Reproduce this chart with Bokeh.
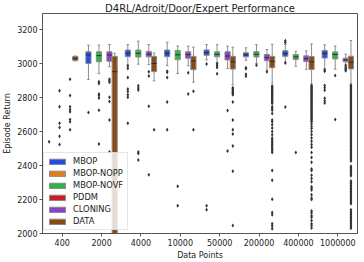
from bokeh.plotting import figure
from bokeh.models import FixedTicker, Range1d, Legend, LegendItem, ColumnDataSource
from bokeh.embed import file_html
from bokeh.resources import INLINE

categories = ["400", "2000", "4000", "10000", "50000", "200000", "400000", "1000000"]
hues = ["MBOP", "MBOP-NOPP", "MBOP-NOVF", "PDDM", "CLONING", "DATA"]
hue_colors = ["#224fdf", "#df7d20", "#30b347", "#cb1d25", "#8942cb", "#8b4a14"]

# box statistics per hue, one value per category (None: box lies below the visible range / no data)
mbop_low = [None, 2906, 2992, 2987, 3021, 3019, 3008, 2969]
mbop_q1 = [None, 3000, 3040, 3040, 3048, 3039, 3042, 3032]
mbop_med = [None, 3050, 3060, 3060, 3064, 3050, 3058, 3059]
mbop_q3 = [None, 3069, 3079, 3079, 3080, 3063, 3075, 3077]
mbop_high = [None, 3108, 3111, 3125, 3111, 3092, 3112, 3110]
mbop_fliers = [[2539], [2712], [2985, 2971, 2917, 2850, 2835, 2816, 2802, 2648],
               [2955, 2948, 2917, 2774, 2610], [2997, 2163, 2140], [2975, 2969, 2937, 2925],
               [3133, 3124, 3003, 2744], [2962, 2955, 2870, 2858, 2842, 2795, 2781, 2768]]

novf_low = [None, 2940, 2996, 2941, 3006, 3000, 2984, 2966]
novf_q1 = [None, 3010, 3038, 3022, 3039, 3038, 3024, 3027]
novf_med = [None, 3046, 3060, 3051, 3054, 3054, 3039, 3053]
novf_q3 = [None, 3069, 3079, 3077, 3069, 3070, 3053, 3068]
novf_high = [None, 3108, 3131, 3103, 3111, 3111, 3072, 3103]
novf_fliers = [[2840, 2745, 2648, 2624, 2572, 2523], [2892, 2883, 2821, 2812, 2797, 2725, 2527],
               [2869, 2856, 2844, 2480, 2470, 2433], [2278, 2163], [2998, 2988, 2977, 2940],
               [2990], [2476], [2930, 2671]]

cloning_low = [None, 2981, 2994, 2987, 2971, 2962, 2964, 2995]
cloning_q1 = [None, 3013, 3039, 3031, 3021, 3016, 3011, 3010]
cloning_med = [None, 3050, 3054, 3052, 3044, 3034, 3029, 3021]
cloning_q3 = [None, 3069, 3071, 3069, 3069, 3053, 3045, 3031]
cloning_high = [None, 3111, 3111, 3102, 3102, 3082, 3074, 3055]
cloning_fliers = [[2908, 2812, 2745, 2729, 2716, 2671, 2658, 2610],
                  [2908, 2898, 2889, 2802, 2777, 2668, 2480], [2952, 2927, 2748, 2345],
                  [2945, 2821], [2724, 2485], [2952], [], [2986, 2978, 2970, 2963, 2957]]

data_low = [3015, 1300, 2898, 2890, 2875, 2885, 2880, 2879]
data_q1 = [3017, 1700, 2952, 2963, 2967, 2975, 2965, 2968]
data_med = [3030, 2952, 3000, 3015, 3010, 3012, 3010, 3007]
data_q3 = [3042, 3042, 3042, 3042, 3042, 3042, 3041, 3043]
data_high = [3044, 3060, 3061, 3096, 3096, 3113, 3115, 3135]
data_fliers_50000 = [2858, 2852, 2846, 2840, 2834, 2828, 2822, 2816, 2774, 2668, 2610, 2585,
                     2514, 2366, 2047]
data_fliers_200000 = [2868, 2862, 2857, 2851, 2845, 2839, 2833, 2827, 2821, 2815, 2809, 2803,
                      2797, 2791, 2785, 2779, 2772, 2765, 2745, 2735, 2725, 2706, 2668, 2658,
                      2639, 2620, 2600, 2581, 2562, 2552, 2543, 2533, 2524, 2514, 2505, 2495,
                      2486, 2476, 2370, 2313, 2201, 2124, 2111, 2057, 2044, 2028]
data_fliers_400000 = [2871, 2865, 2859, 2853, 2847, 2841, 2835, 2829, 2823, 2817, 2811, 2805,
                      2799, 2793, 2787, 2781, 2775, 2769, 2763, 2757, 2751, 2745, 2739, 2733,
                      2727, 2721, 2715, 2709, 2703, 2697, 2690, 2684, 2677, 2671, 2664, 2658,
                      2644, 2630, 2617, 2600, 2581, 2562, 2543, 2523, 2508, 2476, 2447, 2419,
                      2380, 2370, 2342, 2323, 2304, 2275, 2266, 2256, 2228, 2209, 2200, 2133,
                      2120, 2104, 2095, 2076, 2057, 2047, 2032]
data_fliers_1000000 = [2872, 2866, 2860, 2853, 2847, 2840, 2834, 2828, 2821, 2815, 2808, 2802,
                       2795, 2789, 2782, 2776, 2769, 2762, 2756, 2749, 2742, 2736, 2729, 2722,
                       2716, 2709, 2702, 2695, 2688, 2681, 2674, 2668, 2661, 2654, 2647, 2640,
                       2633, 2626, 2619, 2612, 2605, 2598, 2591, 2584, 2577, 2570, 2562, 2555,
                       2548, 2540, 2533, 2526, 2518, 2511, 2503, 2496, 2488, 2481, 2473, 2466,
                       2458, 2450, 2443, 2435, 2427, 2396, 2388, 2380, 2372, 2364, 2356, 2348,
                       2340, 2309, 2300, 2292, 2283, 2274, 2265, 2256, 2247, 2238, 2229, 2220,
                       2211, 2202, 2193, 2184, 2175, 2139, 2130, 2121, 2112, 2103, 2094, 2085,
                       2076, 2067, 2058, 2049, 2040, 2031]
data_fliers = [[], [], [2610], [2837, 2610], data_fliers_50000, data_fliers_200000,
               data_fliers_400000, data_fliers_1000000]

none8 = [None] * len(categories)
empty8 = [[] for _ in categories]
stats = {
    "MBOP": (mbop_low, mbop_q1, mbop_med, mbop_q3, mbop_high, mbop_fliers),
    "MBOP-NOPP": (none8, none8, none8, none8, none8, empty8),
    "MBOP-NOVF": (novf_low, novf_q1, novf_med, novf_q3, novf_high, novf_fliers),
    "PDDM": (none8, none8, none8, none8, none8, empty8),
    "CLONING": (cloning_low, cloning_q1, cloning_med, cloning_q3, cloning_high, cloning_fliers),
    "DATA": (data_low, data_q1, data_med, data_q3, data_high, data_fliers),
}

FONT = "DejaVu Sans"
EDGE = "#8c8c8c"
MEDIAN = "#2e2e2e"
FRAME = "#555555"

p = figure(width=364, height=262, output_backend="svg", toolbar_location=None,
           x_range=Range1d(-0.5, len(categories) - 0.5), y_range=Range1d(2000, 3294),
           min_border_left=37, min_border_right=7, min_border_top=13, min_border_bottom=24,
           title="D4RL/Adroit/Door/Expert Performance")
p.background_fill_color = "white"
p.border_fill_color = "white"
p.outline_line_color = FRAME
p.outline_line_width = 1
p.xgrid.visible = False
p.ygrid.visible = False

p.title.text_font = FONT
p.title.text_font_size = "10px"
p.title.text_font_style = "normal"
p.title.text_color = "#222222"
p.title.align = "center"
p.title.standoff = 0

n = len(hues)
group_w = 0.8
box_w = group_w / n * 0.98
legend_items = []
for j, h in enumerate(hues):
    off = (j - (n - 1) / 2) * group_w / n
    low, q1, med, q3, high, fl = stats[h]
    d = dict(x=[], low=[], q1=[], med=[], q3=[], high=[], cx0=[], cx1=[], mx0=[], mx1=[])
    fx, fy = [], []
    for i in range(len(categories)):
        x = i + off
        for v in fl[i]:
            fx.append(x)
            fy.append(v)
        if med[i] is None:
            continue
        d["x"].append(x)
        d["low"].append(low[i]); d["q1"].append(q1[i]); d["med"].append(med[i])
        d["q3"].append(q3[i]); d["high"].append(high[i])
        d["cx0"].append(x - box_w / 4); d["cx1"].append(x + box_w / 4)
        d["mx0"].append(x - box_w / 2); d["mx1"].append(x + box_w / 2)
    src = ColumnDataSource(d)
    p.segment(x0="x", y0="q3", x1="x", y1="high", source=src, line_color=EDGE, line_width=1)
    p.segment(x0="x", y0="low", x1="x", y1="q1", source=src, line_color=EDGE, line_width=1)
    p.segment(x0="cx0", y0="high", x1="cx1", y1="high", source=src, line_color=EDGE, line_width=1)
    p.segment(x0="cx0", y0="low", x1="cx1", y1="low", source=src, line_color=EDGE, line_width=1)
    if len(d["x"]) > 0:
        r = p.vbar(x="x", width=box_w, bottom="q1", top="q3", source=src,
                   fill_color=hue_colors[j], line_color=EDGE, line_width=1)
    else:
        # hue without any data: a renderer with one empty (NaN) row so the legend swatch is drawn
        r = p.vbar(x=[float("nan")], width=box_w, bottom=[float("nan")], top=[float("nan")],
                   fill_color=hue_colors[j], line_color=EDGE, line_width=1)
    p.segment(x0="mx0", y0="med", x1="mx1", y1="med", source=src, line_color=MEDIAN, line_width=1)
    p.scatter(fx, fy, marker="diamond", size=4, fill_color="#333333", line_color=None)
    legend_items.append(LegendItem(label=h, renderers=[r]))

legend = Legend(items=legend_items, location=(1, 3))
legend.label_text_font = FONT
legend.label_text_font_size = "8.3px"
legend.label_text_color = "#222222"
legend.glyph_width = 20
legend.glyph_height = 7
legend.label_height = 10
legend.label_width = 51
legend.label_standoff = 6
legend.spacing = 2
legend.padding = 3
legend.margin = 0
legend.border_line_color = "#cccccc"
legend.border_line_width = 1
legend.background_fill_alpha = 0.8
p.add_layout(legend)

p.xaxis.ticker = FixedTicker(ticks=list(range(len(categories))))
p.xaxis.major_label_overrides = {i: c for i, c in enumerate(categories)}
p.yaxis.ticker = FixedTicker(ticks=[2000, 2200, 2400, 2600, 2800, 3000, 3200])
p.xaxis.axis_label = "Data Points"
p.yaxis.axis_label = "Episode Return"
for ax in (p.xaxis[0], p.yaxis[0]):
    ax.axis_label_text_font = FONT
    ax.axis_label_text_font_size = "8px"
    ax.axis_label_text_font_style = "normal"
    ax.axis_label_text_color = "#222222"
    ax.major_label_text_font = FONT
    ax.major_label_text_font_size = "8px"
    ax.major_label_text_color = "#222222"
    ax.axis_line_color = FRAME
    ax.major_tick_line_color = FRAME
    ax.major_tick_out = 3
    ax.major_tick_in = 0
    ax.minor_tick_line_color = None
    ax.major_label_standoff = 2
    ax.axis_label_standoff = 2

open("out.html", "w").write(file_html(p, INLINE))
